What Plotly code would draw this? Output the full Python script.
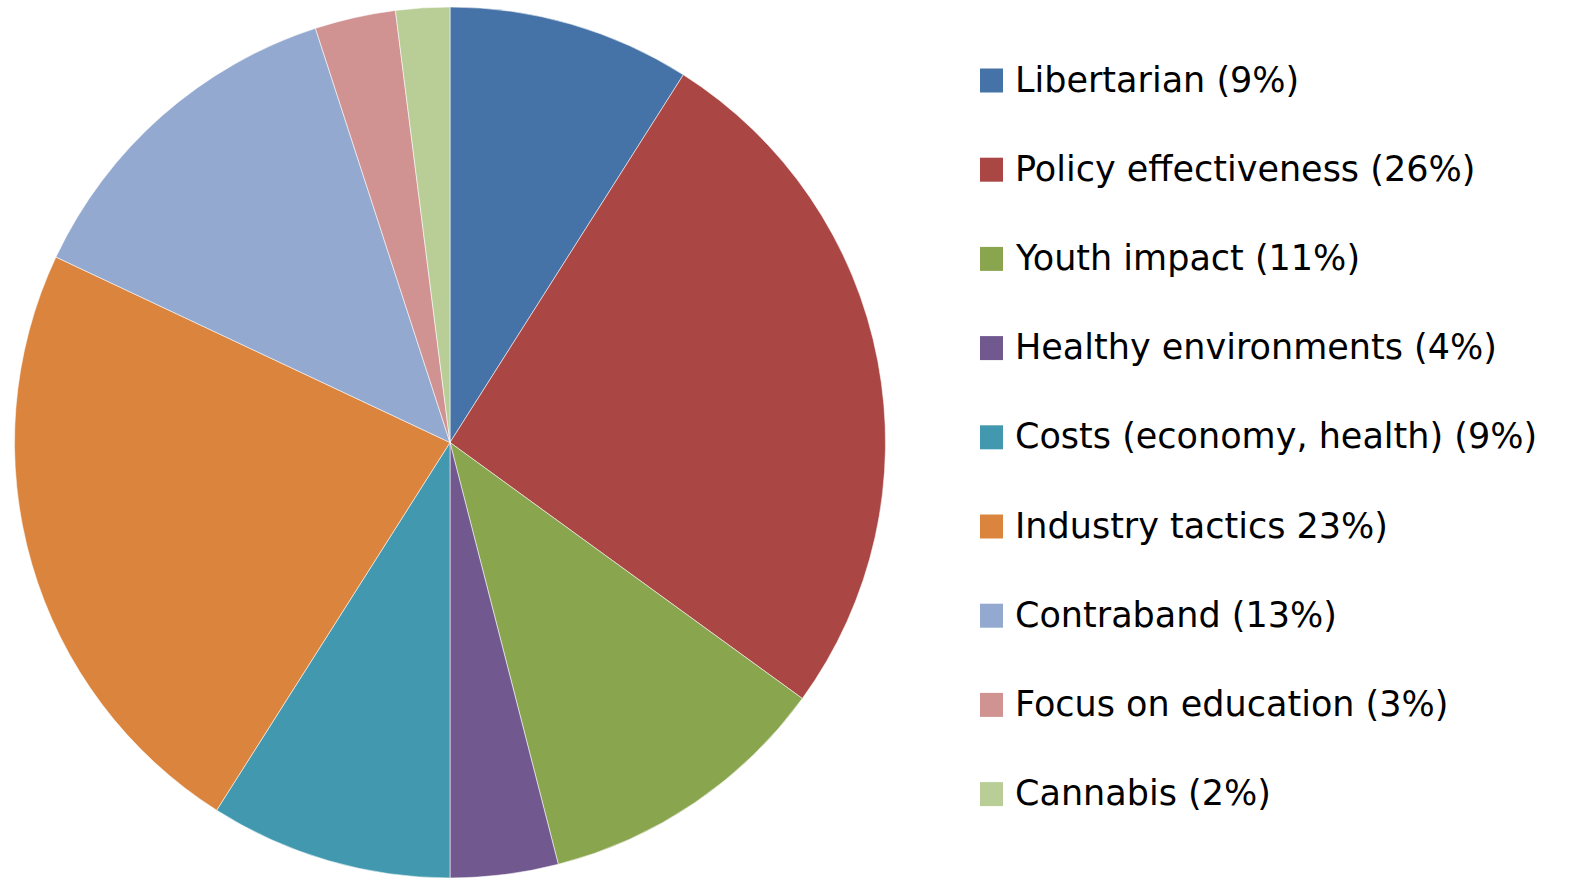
import plotly.graph_objects as go

# Survey themes, their shares and the series colours
categories = [
    "Libertarian (9%)",
    "Policy effectiveness (26%)",
    "Youth impact (11%)",
    "Healthy environments (4%)",
    "Costs (economy, health) (9%)",
    "Industry tactics 23%)",
    "Contraband (13%)",
    "Focus on education (3%)",
    "Cannabis (2%)",
]
shares = [9, 26, 11, 4, 9, 23, 13, 3, 2]
colors = [
    "#4572A7", "#AA4643", "#89A54E", "#71588F", "#4198AF",
    "#DB843D", "#93A9CF", "#D19392", "#B9CD96",
]

W, H = 1569, 878
FONT = "DejaVu Sans"

fig = go.Figure(
    go.Pie(
        labels=categories,
        values=shares,
        sort=False,
        direction="clockwise",
        rotation=0,
        marker=dict(colors=colors, line=dict(color="rgba(255,255,255,0.55)", width=1)),
        textinfo="none",
        hoverinfo="label",
        showlegend=False,
        domain=dict(x=[13 / W, 887 / W], y=[0, 1 - 7 / H]),
    )
)

# Legend column: coloured square + label per category
row0, step = 80.5, 89.2
for i, (name, col) in enumerate(zip(categories, colors)):
    yc = row0 + step * i
    fig.add_shape(
        type="rect", xref="paper", yref="paper",
        x0=980 / W, x1=1003 / W,
        y0=1 - (yc - 12) / H, y1=1 - (yc + 12) / H,
        fillcolor=col, line=dict(width=0),
    )
    fig.add_annotation(
        xref="paper", yref="paper",
        x=1013 / W, y=1 - (yc - 1) / H,
        xanchor="left", yanchor="middle",
        text=name, showarrow=False,
        font=dict(family=FONT, size=35, color="#000000"),
    )

fig.update_layout(
    width=W, height=H,
    margin=dict(l=0, r=0, t=0, b=0),
    paper_bgcolor="white", plot_bgcolor="white",
)

fig.write_html("out.html")
